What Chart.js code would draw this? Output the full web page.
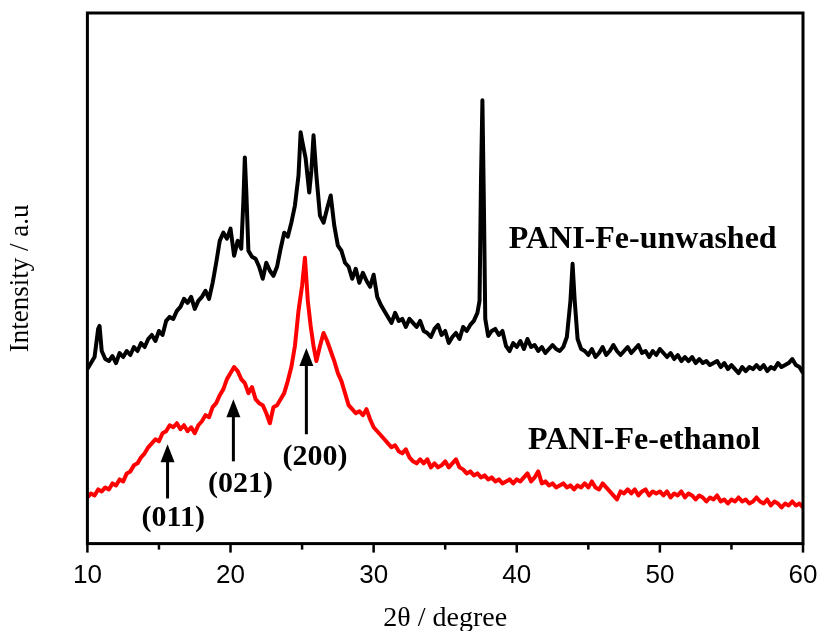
<!DOCTYPE html>
<html>
<head>
  <title>PANI-Fe XRD</title>
  <script src="https://cdn.jsdelivr.net/npm/chart.js"></script>
  <style>
    body { margin: 0; background: #fff; }
    #wrap { width: 819px; height: 631px; }
  </style>
</head>
<body>
<div id="wrap"><canvas id="xrdChart"></canvas></div>
<script>
  // 2-theta positions (degree) and intensities (a.u., offset stacked)
  const unwashedTheta = [
    10, 10.25, 10.5, 10.75, 10.85, 11, 11.25, 11.5, 11.75, 12, 12.25, 12.5, 12.75,
    13, 13.25, 13.5, 13.75, 14, 14.25, 14.5, 14.75, 15, 15.25, 15.5, 15.75,
    16, 16.25, 16.5, 16.75, 17, 17.25, 17.5, 17.75, 18, 18.25, 18.5, 18.75,
    19, 19.25, 19.5, 19.75, 20, 20.25, 20.5, 20.75, 20.9, 21, 21.1, 21.25, 21.5, 21.75,
    22, 22.25, 22.5, 22.75, 23, 23.25, 23.5, 23.75, 24, 24.25, 24.5, 24.75,
    24.9, 25, 25.25, 25.5, 25.65, 25.8, 26, 26.25, 26.5, 26.75, 27, 27.25, 27.5, 27.75,
    28, 28.25, 28.5, 28.75, 29, 29.25, 29.5, 29.75, 30, 30.25, 30.5, 30.75,
    31, 31.25, 31.5, 31.75, 32, 32.25, 32.5, 32.75, 33, 33.25, 33.5, 33.75,
    34, 34.25, 34.5, 34.75, 35, 35.25, 35.5, 35.75, 36, 36.25, 36.5, 36.75,
    37, 37.25, 37.4, 37.5, 37.6, 37.7, 37.8, 38, 38.25, 38.5, 38.75, 39, 39.25, 39.5, 39.75,
    40, 40.25, 40.5, 40.75, 41, 41.25, 41.5, 41.75, 42, 42.25, 42.5, 42.75,
    43, 43.25, 43.5, 43.75, 43.9, 44.05, 44.25, 44.5, 44.75, 45, 45.25, 45.5, 45.75,
    46, 46.25, 46.5, 46.75, 47, 47.25, 47.5, 47.75, 48, 48.25, 48.5, 48.75,
    49, 49.25, 49.5, 49.75, 50, 50.25, 50.5, 50.75, 51, 51.25, 51.5, 51.75,
    52, 52.25, 52.5, 52.75, 53, 53.25, 53.5, 53.75, 54, 54.25, 54.5, 54.75,
    55, 55.25, 55.5, 55.75, 56, 56.25, 56.5, 56.75, 57, 57.25, 57.5, 57.75,
    58, 58.25, 58.5, 58.75, 59, 59.25, 59.5, 59.75, 60
  ];
  const unwashedIntensity = [
    174, 180, 186, 214, 217, 192, 184, 182, 187, 180, 190, 186, 192,
    188, 196, 192, 200, 196, 204, 208, 202, 212, 208, 222, 226,
    224, 232, 236, 244, 240, 246, 234, 242, 246, 252, 244, 260,
    280, 302, 310, 304, 314, 287, 302, 294, 342, 385, 352, 292, 286, 284,
    276, 264, 280, 272, 267, 276, 294, 310, 306, 320, 337, 367,
    410, 402, 384, 350, 372, 407, 367, 327, 320, 334, 347, 317, 297, 292,
    280, 276, 264, 274, 260, 270, 262, 256, 268, 246, 238, 232,
    226, 220, 230, 222, 224, 216, 224, 220, 216, 222, 212, 210,
    206, 214, 218, 208, 212, 200, 206, 210, 204, 216, 212, 218,
    222, 230, 242, 362, 442, 342, 224, 207, 212, 214, 208, 212, 197, 192, 200,
    196, 202, 194, 204, 196, 198, 192, 196, 190, 194, 198, 194,
    192, 196, 206, 242, 279, 242, 204, 194, 192, 188, 194, 186, 190,
    196, 188, 192, 198, 192, 188, 192, 196, 190, 194, 198, 190,
    192, 186, 192, 188, 194, 190, 186, 190, 184, 188, 182, 186,
    182, 186, 180, 184, 180, 182, 178, 180, 182, 176, 180, 174,
    178, 174, 170, 176, 172, 176, 174, 178, 174, 178, 172, 176,
    174, 180, 176, 178, 180, 184, 178, 176, 170
  ];

  const ethanolTheta = [
    10, 10.25, 10.5, 10.75, 11, 11.25, 11.5, 11.75, 12, 12.25, 12.5, 12.75,
    13, 13.25, 13.5, 13.75, 14, 14.25, 14.5, 14.75, 15, 15.25, 15.5, 15.75,
    16, 16.25, 16.5, 16.75, 17, 17.25, 17.5, 17.75, 18, 18.25, 18.5, 18.75,
    19, 19.25, 19.5, 19.75, 20, 20.25, 20.5, 20.75, 21, 21.25, 21.5, 21.75,
    22, 22.25, 22.5, 22.75, 23, 23.25, 23.5, 23.75, 24, 24.25, 24.5, 24.75,
    25, 25.2, 25.4, 25.6, 25.8,
    26, 26.25, 26.5, 26.75, 27, 27.25, 27.5, 27.75,
    28, 28.25, 28.5, 28.75, 29, 29.25, 29.5, 29.75, 30, 30.25, 30.5, 30.75,
    31, 31.25, 31.5, 31.75, 32, 32.25, 32.5, 32.75, 33, 33.25, 33.5, 33.75,
    34, 34.25, 34.5, 34.75, 35, 35.25, 35.5, 35.75, 36, 36.25, 36.5, 36.75,
    37, 37.25, 37.5, 37.75, 38, 38.25, 38.5, 38.75, 39, 39.25, 39.5, 39.75,
    40, 40.25, 40.5, 40.75, 41, 41.25, 41.5, 41.75, 42, 42.25, 42.5, 42.75,
    43, 43.25, 43.5, 43.75, 44, 44.25, 44.5, 44.75, 45, 45.25, 45.5, 45.75,
    46, 46.25, 46.5, 46.75, 47, 47.25, 47.5, 47.75, 48, 48.25, 48.5, 48.75,
    49, 49.25, 49.5, 49.75, 50, 50.25, 50.5, 50.75, 51, 51.25, 51.5, 51.75,
    52, 52.25, 52.5, 52.75, 53, 53.25, 53.5, 53.75, 54, 54.25, 54.5, 54.75,
    55, 55.25, 55.5, 55.75, 56, 56.25, 56.5, 56.75, 57, 57.25, 57.5, 57.75,
    58, 58.25, 58.5, 58.75, 59, 59.25, 59.5, 59.75, 60
  ];
  const ethanolIntensity = [
    46, 50, 48, 54, 52, 56, 54, 60, 58, 64, 62, 70,
    72, 78, 80, 86, 90, 96, 100, 104, 102, 110, 112, 118,
    116, 120, 114, 118, 112, 116, 110, 118, 122, 128, 126, 136,
    140, 148, 154, 164, 170, 176, 172, 164, 160, 150, 156, 144,
    140, 138, 130, 120, 136, 138, 144, 150, 162, 176, 197, 232,
    257, 285, 242, 217, 197,
    182, 197, 210, 202, 192, 182, 170, 162,
    150, 138, 134, 130, 132, 128, 134, 124, 116, 112, 108, 104,
    100, 96, 98, 92, 90, 94, 86, 82, 80, 84, 80, 84,
    76, 80, 76, 78, 82, 76, 80, 84, 76, 74, 70, 72,
    68, 70, 66, 68, 64, 66, 62, 64, 60, 62, 64, 60,
    64, 62, 66, 70, 62, 66, 72, 60, 62, 58, 60, 56,
    58, 60, 56, 58, 54, 58, 56, 60, 56, 62, 56, 54,
    60, 56, 52, 48, 44, 52, 50, 54, 50, 54, 48, 52,
    54, 48, 52, 50, 52, 48, 52, 46, 50, 48, 52, 46,
    50, 48, 44, 48, 46, 42, 46, 44, 48, 42, 44, 40,
    44, 42, 46, 42, 44, 40, 42, 46, 42, 40, 44, 38,
    42, 40, 36, 40, 38, 42, 38, 40, 36
  ];

  const seriesNames = ['PANI-Fe-unwashed', 'PANI-Fe-ethanol'];
  const reflections = ['(011)', '(021)', '(200)'];
  const reflectionTheta = [15.6, 20.2, 25.3];

  function toPoints(xs, ys) {
    return xs.map((x, i) => ({ x: x, y: ys[i] }));
  }

  // arrows + texts, placed in data units
  const notes = {
    arrows: [
      { x: reflectionTheta[0], from: 45, to: 99 },
      { x: reflectionTheta[1], from: 82, to: 144 },
      { x: reflectionTheta[2], from: 109, to: 195 }
    ],
    texts: [
      { text: reflections[0], x: 16.0, y: 25, size: 30 },
      { text: reflections[1], x: 20.7, y: 59, size: 30 },
      { text: reflections[2], x: 25.9, y: 86, size: 30 },
      { text: seriesNames[0], x: 48.8, y: 303, size: 32 },
      { text: seriesNames[1], x: 48.9, y: 103, size: 32 }
    ]
  };

  const framePlugin = {
    id: 'framePlugin',
    afterDatasetsDraw(chart) {
      const { ctx, chartArea: a, scales: { x, y } } = chart;
      ctx.save();
      ctx.strokeStyle = '#000';
      ctx.fillStyle = '#000';
      ctx.lineWidth = 3;
      ctx.strokeRect(a.left, a.top, a.right - a.left, a.bottom - a.top);

      // major ticks longer than minor ones
      ctx.lineWidth = 2.5;
      x.ticks.forEach(t => {
        const px = x.getPixelForValue(t.value);
        const len = t.value % 10 === 0 ? 9 : 6;
        ctx.beginPath();
        ctx.moveTo(px, a.bottom);
        ctx.lineTo(px, a.bottom + len);
        ctx.stroke();
      });

      ctx.lineWidth = 3;
      notes.arrows.forEach(ar => {
        const px = x.getPixelForValue(ar.x);
        const y0 = y.getPixelForValue(ar.from);
        const y1 = y.getPixelForValue(ar.to);
        const head = 18;
        ctx.beginPath();
        ctx.moveTo(px, y0);
        ctx.lineTo(px, y1 + head - 2);
        ctx.stroke();
        ctx.beginPath();
        ctx.moveTo(px, y1);
        ctx.lineTo(px - 7, y1 + head);
        ctx.lineTo(px + 7, y1 + head);
        ctx.closePath();
        ctx.fill();
      });

      ctx.textAlign = 'center';
      ctx.textBaseline = 'middle';
      notes.texts.forEach(n => {
        ctx.font = 'bold ' + n.size + 'px "Liberation Serif"';
        ctx.fillText(n.text, x.getPixelForValue(n.x), y.getPixelForValue(n.y));
      });
      ctx.restore();
    }
  };

  new Chart(document.getElementById('xrdChart'), {
    type: 'line',
    data: {
      datasets: [
        {
          label: seriesNames[0],
          data: toPoints(unwashedTheta, unwashedIntensity),
          borderColor: '#000000',
          borderWidth: 4,
          borderJoinStyle: 'round',
          pointRadius: 0,
          fill: false
        },
        {
          label: seriesNames[1],
          data: toPoints(ethanolTheta, ethanolIntensity),
          borderColor: '#ff0000',
          borderWidth: 4,
          borderJoinStyle: 'round',
          pointRadius: 0,
          fill: false
        }
      ]
    },
    options: {
      responsive: true,
      maintainAspectRatio: false,
      animation: false,
      layout: { padding: { top: 13, right: 16, left: 0, bottom: 0 } },
      plugins: { legend: { display: false }, tooltip: { enabled: false } },
      scales: {
        x: {
          type: 'linear',
          min: 10,
          max: 60,
          border: { display: false },
          grid: { display: false },
          afterFit: scale => { scale.paddingRight = 0; },
          ticks: {
            stepSize: 5,
            padding: 9,
            color: '#000',
            font: { family: 'Liberation Sans', size: 26 },
            callback: v => (v % 10 === 0 ? String(v) : '')
          },
          title: {
            display: true,
            text: '2θ / degree',
            color: '#000',
            font: { family: 'Liberation Serif', size: 28, lineHeight: 0.9 },
            padding: { top: 5, bottom: 0 }
          }
        },
        y: {
          min: 0,
          max: 529,
          border: { display: false },
          grid: { display: false },
          ticks: { display: false },
          title: {
            display: true,
            text: 'Intensity / a.u',
            color: '#000',
            font: { family: 'Liberation Serif', size: 27 },
            padding: { top: 5, bottom: 42 }
          }
        }
      }
    },
    plugins: [framePlugin]
  });
</script>
</body>
</html>
